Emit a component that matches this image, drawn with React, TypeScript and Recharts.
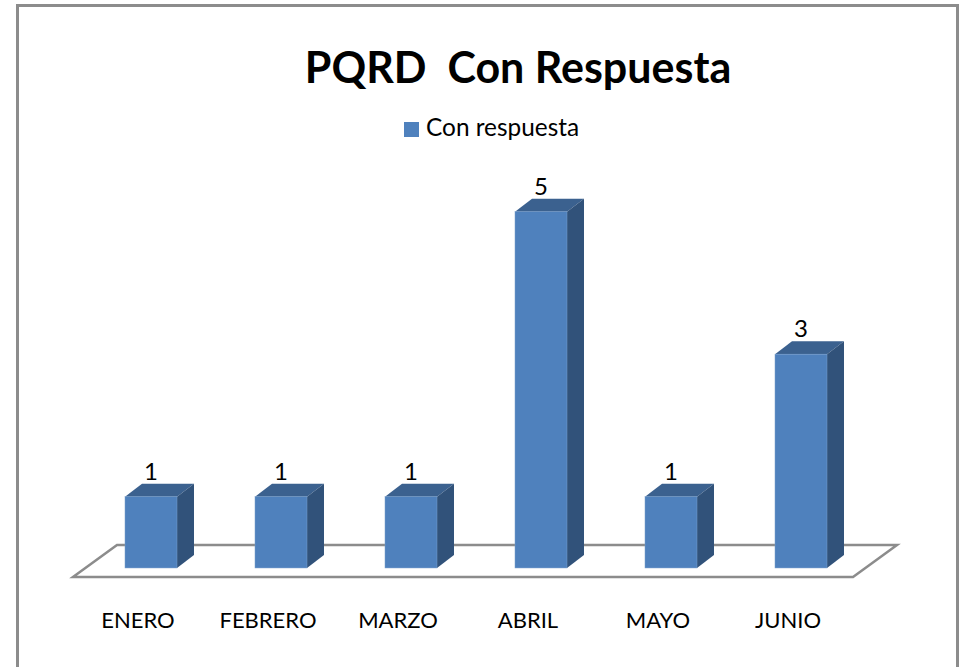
import { BarChart, Bar, XAxis, YAxis, Legend, LabelList, ReferenceArea } from 'recharts'

const months = ['ENERO', 'FEBRERO', 'MARZO', 'ABRIL', 'MAYO', 'JUNIO']
const conRespuesta = [1, 1, 1, 5, 1, 3]

const chartData = months.map((m, i) => ({ month: m, value: conRespuesta[i] }))

const FONT = 'Lato, "Open Sans", sans-serif'
const DEPTH_X = 17
const DEPTH_Y = 13

// fake the 3D column: front, top and side faces
function Column3D(props: any) {
  const { x, y, width, height } = props
  const r = x + width
  const b = y + height
  return (
    <g>
      <polygon
        points={`${x},${y} ${x + DEPTH_X},${y - DEPTH_Y} ${r + DEPTH_X},${y - DEPTH_Y} ${r},${y}`}
        fill="#3b618f"
      />
      <polygon
        points={`${r},${y} ${r + DEPTH_X},${y - DEPTH_Y} ${r + DEPTH_X},${b - DEPTH_Y} ${r},${b}`}
        fill="#31527a"
      />
      <rect x={x} y={y} width={width} height={height} fill="#4f81bd" stroke="#7a9fcc" strokeWidth={0.5} />
    </g>
  )
}

function Floor(props: any) {
  const { x, y, width, height } = props
  const front = y + height
  return (
    <polygon
      points={`${x - 13},${front} ${x + width - 13},${front} ${x + width + 31},${y} ${x + 31},${y}`}
      fill="none"
      stroke="#8c8c8c"
      strokeWidth={2.5}
    />
  )
}

export default function App() {
  return (
    <div style={{ position: 'absolute', left: 0, top: 0, width: 965, height: 667, overflow: 'hidden', background: '#fff' }}>
      <div
        style={{
          position: 'absolute',
          left: 16,
          top: 4,
          width: 937,
          height: 700,
          border: '3px solid #8c8c8c',
        }}
      />
      <div style={{ position: 'absolute', left: 0, top: 0 }}>
        <BarChart
          width={965}
          height={667}
          data={chartData}
          margin={{ top: 147, right: 99, bottom: 23.4, left: 86 }}
        >
          <text x={518} y={83} textAnchor="middle" fontFamily={FONT} fontWeight={700} fontSize={43} fill="#000" xmlSpace="preserve">
            PQRD  Con Respuesta
          </text>
          <XAxis
            dataKey="month"
            axisLine={false}
            tickLine={false}
            height={40}
            interval={0}
            dx={-13}
            dy={1}
            tick={{ fontFamily: FONT, fontSize: 22, fill: '#000' }}
          />
          <YAxis hide domain={[-0.5, 5.5]} />
          <ReferenceArea
            x1="ENERO"
            x2="JUNIO"
            y1={-0.126}
            y2={0.323}
            ifOverflow="visible"
            shape={Floor}
          />
          <Legend
            verticalAlign="top"
            align="left"
            iconType="square"
            iconSize={15}
            wrapperStyle={{ top: 112, left: 404, width: 220, right: 'auto', fontFamily: FONT, fontSize: 24.4 }}
            formatter={(v: string) => <span style={{ color: '#000', marginLeft: 3 }}>{v}</span>}
          />
          <Bar
            dataKey="value"
            name="Con respuesta"
            fill="#4f81bd"
            barSize={52}
            shape={Column3D}
            isAnimationActive={false}
          >
            <LabelList dataKey="value" position="top" offset={17} fontFamily={FONT} fontSize={24} fill="#000" />
          </Bar>
        </BarChart>
      </div>
    </div>
  )
}
